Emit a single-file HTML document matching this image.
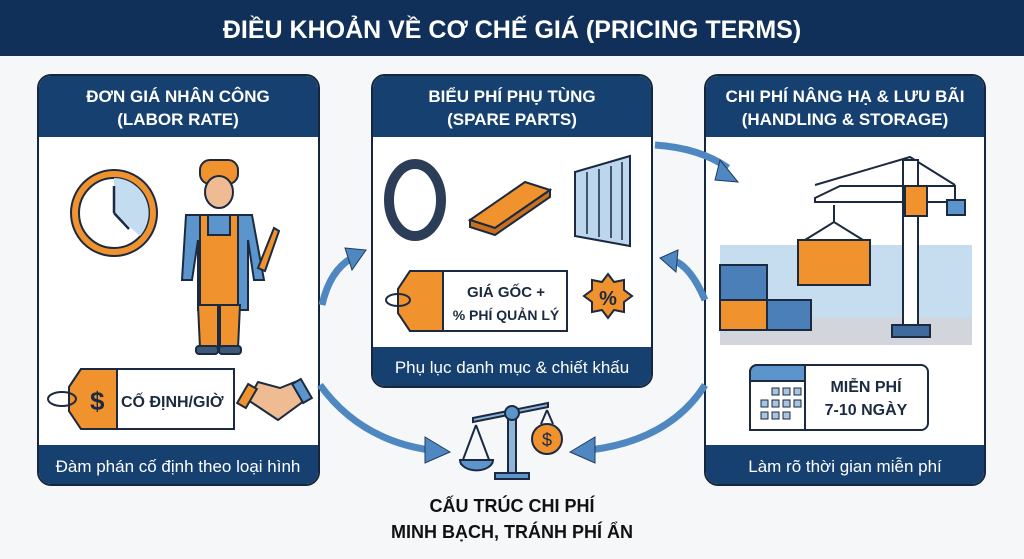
<!DOCTYPE html>
<html><head><meta charset="utf-8"><style>
html,body{margin:0;padding:0;background:#f6f7f9;}
svg{display:block;font-family:"Liberation Sans","DejaVu Sans",sans-serif;}
</style></head><body>
<svg width="1024" height="559" viewBox="0 0 1024 559" xmlns="http://www.w3.org/2000/svg">
<rect width="1024" height="559" fill="#f6f7f9"/>
<rect width="1024" height="56" fill="#10305a"/>
<text x="512" y="38" font-size="25" font-weight="bold" fill="#fff" text-anchor="middle">ĐIỀU KHOẢN VỀ CƠ CHẾ GIÁ (PRICING TERMS)</text>

<!-- panels -->
<g stroke="#16263d" stroke-width="2">
<rect x="38" y="75" width="281" height="410" rx="13" fill="#fff"/>
<rect x="372" y="75" width="280" height="312" rx="13" fill="#fff"/>
<rect x="705" y="75" width="280" height="410" rx="13" fill="#fff"/>
</g>
<g fill="#15406f">
<path d="M39 137V88a12 12 0 0 1 12-12h255a12 12 0 0 1 12 12v49z"/>
<path d="M373 137V88a12 12 0 0 1 12-12h254a12 12 0 0 1 12 12v49z"/>
<path d="M706 137V88a12 12 0 0 1 12-12h254a12 12 0 0 1 12 12v49z"/>
<path d="M39 445h279v27a12 12 0 0 1-12 12H51a12 12 0 0 1-12-12z"/>
<path d="M373 347h278v27a12 12 0 0 1-12 12H385a12 12 0 0 1-12-12z"/>
<path d="M706 445h278v27a12 12 0 0 1-12 12H718a12 12 0 0 1-12-12z"/>
</g>

<!-- arrows -->
<g fill="none" stroke="#4f88c0" stroke-width="7">
<path d="M322 305 Q330 270 352 258"/>
<path d="M655 145 Q700 148 728 168"/>
<path d="M705 300 Q690 265 672 260"/>
<path d="M320 385 Q360 440 430 450"/>
<path d="M705 385 Q670 440 590 450"/>
</g>
<g fill="#4f88c0" stroke="#1f3b60" stroke-width="1">
<polygon points="345,248 366,250 352,270"/>
<polygon points="720,160 738,182 715,180"/>
<polygon points="678,250 660,258 676,272"/>
<polygon points="425,437 450,452 425,463"/>
<polygon points="595,437 570,452 595,463"/>
</g>

<g fill="#fff" font-weight="bold" font-size="17" text-anchor="middle">
<text x="178" y="102">ĐƠN GIÁ NHÂN CÔNG</text><text x="178" y="125">(LABOR RATE)</text>
<text x="512" y="102">BIỂU PHÍ PHỤ TÙNG</text><text x="512" y="125">(SPARE PARTS)</text>
<text x="845" y="102">CHI PHÍ NÂNG HẠ &amp; LƯU BÃI</text><text x="845" y="125">(HANDLING &amp; STORAGE)</text>
</g>
<g fill="#fff" font-size="17" text-anchor="middle">
<text x="178" y="472">Đàm phán cố định theo loại hình</text>
<text x="512" y="373">Phụ lục danh mục &amp; chiết khấu</text>
<text x="845" y="472">Làm rõ thời gian miễn phí</text>
</g>

<!-- clock -->
<circle cx="114" cy="213" r="43" fill="#f0922e" stroke="#1b2a40" stroke-width="2"/>
<circle cx="114" cy="213" r="35" fill="#fff" stroke="#1b2a40" stroke-width="2"/>
<path d="M114 178 A35 35 0 0 1 140 236 L114 213z" fill="#c4dcef"/>
<path d="M114 213V186M114 213l15 16" stroke="#1b2a40" stroke-width="2.5"/>
<!-- worker -->
<g stroke="#1b2a40" stroke-width="2">
<path d="M186 215h66l12 65h-10l-6-40v70h-50v-70l-6 40h-10z" fill="#5b95cc"/>
<rect x="200" y="160" width="38" height="24" rx="10" fill="#f0922e"/>
<ellipse cx="219" cy="192" rx="14" ry="16" fill="#eebb93"/>
<path d="M200 215h8v20h22v-20h8v95h-38z" fill="#f0922e"/>
<path d="M198 305h20v43h-18zM220 305h20l-2 43h-18z" fill="#f0922e"/>
<rect x="196" y="346" width="22" height="8" rx="3" fill="#3e5878"/>
<rect x="219" y="346" width="22" height="8" rx="3" fill="#3e5878"/>
<path d="M258 268l16-40 5 3-14 40z" fill="#f0922e"/>
</g>
<!-- tag left -->
<g stroke="#1b2a40" stroke-width="2">
<path d="M81 369h153v60H81l-12-18v-24z" fill="#fff"/>
<path d="M81 369h36v60H81l-12-18v-24z" fill="#f0922e"/>
<ellipse cx="62" cy="399" rx="14" ry="7" fill="none"/>
</g>
<text x="90" y="410" font-size="26" font-weight="bold" fill="#1b2a40">$</text>
<text x="121" y="407" font-size="16" font-weight="bold" fill="#1b2a40">CỐ ĐỊNH/GIỜ</text>
<!-- handshake -->
<g stroke="#1b2a40" stroke-width="2">
<path d="M248 400l10-18 22 6 20-8 8 18-30 22z" fill="#eebb93"/>
<rect x="242" y="385" width="10" height="22" fill="#f0922e" transform="rotate(30 247 396)"/>
<rect x="297" y="380" width="10" height="22" fill="#5b95cc" transform="rotate(-30 302 391)"/>
</g>

<!-- middle icons -->
<ellipse cx="415" cy="200" rx="26" ry="36" fill="none" stroke="#2c3e57" stroke-width="10"/>
<path d="M470 220l55-38 25 8-55 38z" fill="#f0922e" stroke="#1b2a40" stroke-width="2"/>
<path d="M470 220v7l25 8 55-38v-7l-55 38z" fill="#c96f1e" stroke="#1b2a40" stroke-width="2"/>
<path d="M575 172l55-16v90l-55-10z" fill="#bcd6ee" stroke="#1b2a40" stroke-width="2"/>
<path d="M587 172v62M599 169v68M611 166v72M622 162v78" stroke="#1b2a40" stroke-width="1.5"/>
<g stroke="#1b2a40" stroke-width="2">
<path d="M410 271h157v60H410l-12-18v-24z" fill="#fff"/>
<path d="M410 271h33v60h-33l-12-18v-24z" fill="#f0922e"/>
<ellipse cx="398" cy="300" rx="12" ry="6" fill="none"/>
<polygon points="608,274 614,282 624,280 624,290 632,296 624,302 624,312 614,310 608,318 602,310 592,312 592,302 584,296 592,290 592,280 602,282" fill="#f0922e"/>
</g>
<text x="506" y="297" font-size="15" font-weight="bold" fill="#1b2a40" text-anchor="middle">GIÁ GỐC +</text>
<text x="506" y="320" font-size="14" font-weight="bold" fill="#1b2a40" text-anchor="middle">% PHÍ QUẢN LÝ</text>
<text x="608" y="305" font-size="20" font-weight="bold" fill="#1b2a40" text-anchor="middle">%</text>

<!-- right scene -->
<rect x="720" y="245" width="252" height="90" fill="#c6dcef"/>
<rect x="720" y="318" width="252" height="27" fill="#d2d6dc"/>
<rect x="720" y="265" width="47" height="35" fill="#4a7fb8" stroke="#1b2a40" stroke-width="2"/>
<rect x="720" y="300" width="47" height="30" fill="#f0922e" stroke="#1b2a40" stroke-width="2"/>
<rect x="767" y="300" width="44" height="30" fill="#4a7fb8" stroke="#1b2a40" stroke-width="2"/>
<rect x="798" y="240" width="72" height="45" fill="#f0922e" stroke="#1b2a40" stroke-width="2"/>
<path d="M805 240l29-18 29 18M834 205v17" stroke="#1b2a40" stroke-width="2" fill="none"/>
<path d="M815 198l25-12h115v16H815z" fill="#fff" stroke="#1b2a40" stroke-width="2"/>
<path d="M815 185l95-28 45 28" fill="none" stroke="#1b2a40" stroke-width="2"/>
<rect x="903" y="160" width="15" height="165" fill="#fff" stroke="#1b2a40" stroke-width="2"/>
<rect x="905" y="186" width="22" height="30" fill="#f0922e" stroke="#1b2a40" stroke-width="2"/>
<rect x="947" y="200" width="18" height="15" fill="#5b95cc" stroke="#1b2a40" stroke-width="2"/>
<rect x="892" y="325" width="38" height="12" fill="#3e6a9c" stroke="#1b2a40" stroke-width="2"/>
<g stroke="#1b2a40" stroke-width="2">
<rect x="750" y="365" width="178" height="65" rx="7" fill="#fff"/>
<path d="M750 430h55v-65h-48a7 7 0 0 0-7 7z" fill="#fff"/>
<path d="M757 365h48v16h-55v-9a7 7 0 0 1 7-7z" fill="#5b95cc"/>
</g>
<g fill="#a9c4de" stroke="#1b2a40" stroke-width="1">
<rect x="772" y="388" width="7" height="7"/><rect x="783" y="388" width="7" height="7"/><rect x="794" y="388" width="7" height="7"/>
<rect x="761" y="400" width="7" height="7"/><rect x="772" y="400" width="7" height="7"/><rect x="783" y="400" width="7" height="7"/><rect x="794" y="400" width="7" height="7"/>
<rect x="761" y="412" width="7" height="7"/><rect x="772" y="412" width="7" height="7"/><rect x="783" y="412" width="7" height="7"/>
</g>
<text x="866" y="392" font-size="16" font-weight="bold" fill="#1b2a40" text-anchor="middle">MIỄN PHÍ</text>
<text x="866" y="415" font-size="16" font-weight="bold" fill="#1b2a40" text-anchor="middle">7-10 NGÀY</text>

<!-- scale -->
<g stroke="#1b2a40" stroke-width="2">
<path d="M473 422l75-15v-4l-75 15z" fill="#8fb4d8"/>
<rect x="508" y="408" width="8" height="65" fill="#8fb4d8"/>
<circle cx="512" cy="413" r="7" fill="#5b95cc"/>
<path d="M476 425l-15 40M476 425l15 40" fill="none"/>
<path d="M460 460h33a16 10 0 0 1-33 0z" fill="#5b95cc"/>
<path d="M547 410l-6 14M547 410l6 14" fill="none"/>
<circle cx="547" cy="439" r="15" fill="#f0922e"/>
<rect x="495" y="473" width="34" height="6" fill="#5b95cc"/>
</g>
<text x="547" y="446" font-size="18" fill="#1b2a40" text-anchor="middle">$</text>
<text x="512" y="512" font-size="18" font-weight="bold" fill="#111" text-anchor="middle">CẤU TRÚC CHI PHÍ</text>
<text x="512" y="538" font-size="18" font-weight="bold" fill="#111" text-anchor="middle">MINH BẠCH, TRÁNH PHÍ ẨN</text>
</svg>
</body></html>
